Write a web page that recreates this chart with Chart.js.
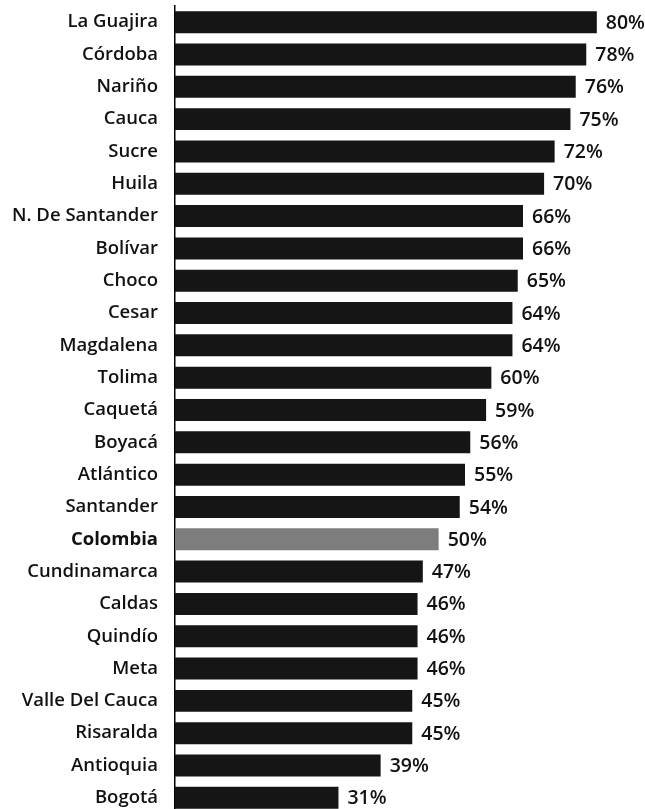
<!DOCTYPE html>
<html>
<head>
<meta charset="utf-8">
<script src="https://cdn.jsdelivr.net/npm/chart.js@4.4.1/dist/chart.umd.min.js"></script>
<style>
  html, body { margin: 0; padding: 0; background: #fff; overflow: hidden; }
  #wrap { width: 645px; height: 814px; }
</style>
</head>
<body>
<div id="wrap"><canvas id="chart"></canvas></div>
<script>
const departments = [
    'La Guajira', 'Córdoba', 'Nariño', 'Cauca', 'Sucre', 'Huila',
    'N. De Santander', 'Bolívar', 'Choco', 'Cesar', 'Magdalena', 'Tolima',
    'Caquetá', 'Boyacá', 'Atlántico', 'Santander', 'Colombia', 'Cundinamarca',
    'Caldas', 'Quindío', 'Meta', 'Valle Del Cauca', 'Risaralda', 'Antioquia', 'Bogotá'
];
const percentages = [80, 78, 76, 75, 72, 70, 66, 66, 65, 64, 64, 60, 59, 56, 55, 54, 50, 47, 46, 46, 46, 45, 45, 39, 31];
const highlight = 'Colombia';

const barColors = departments.map(d => d === highlight ? '#7d7d7d' : '#151515');

// draw the "80%" style labels at the end of each bar
const valueLabels = {
    id: 'valueLabels',
    afterDatasetsDraw(chart) {
        const ctx = chart.ctx;
        const meta = chart.getDatasetMeta(0);
        ctx.save();
        ctx.font = '600 19.5px "Open Sans"';
        ctx.fillStyle = '#111';
        ctx.textBaseline = 'middle';
        meta.data.forEach((bar, i) => {
            ctx.fillText(percentages[i] + '%', bar.x + 9, bar.y + 1);
        });
        ctx.restore();
    }
};

const ctx = document.getElementById('chart').getContext('2d');
const chart = new Chart(ctx, {
    type: 'bar',
    data: {
        labels: departments,
        datasets: [{
            data: percentages,
            backgroundColor: barColors,
            barPercentage: 0.68,
            categoryPercentage: 1.0
        }]
    },
    options: {
        indexAxis: 'y',
        responsive: true,
        maintainAspectRatio: false,
        animation: false,
        layout: { padding: { top: 6, right: 6, left: 0, bottom: 0 } },
        plugins: {
            legend: { display: false },
            tooltip: { enabled: false }
        },
        scales: {
            x: {
                display: false,
                min: 0,
                max: 88
            },
            y: {
                afterFit(scale) {
                    scale.width = 175;
                    // no extra room above/below for the tick labels
                    scale.paddingTop = 0;
                    scale.paddingBottom = 0;
                },
                grid: { display: false, drawTicks: false },
                border: { display: true, color: '#000', width: 1.5 },
                ticks: {
                    padding: 17,
                    color: '#111',
                    font: (c) => ({
                        family: 'Open Sans',
                        size: 18.5,
                        weight: departments[c.index] === highlight ? 'bold' : '600'
                    })
                }
            }
        }
    },
    plugins: [valueLabels]
});
</script>
</body>
</html>
